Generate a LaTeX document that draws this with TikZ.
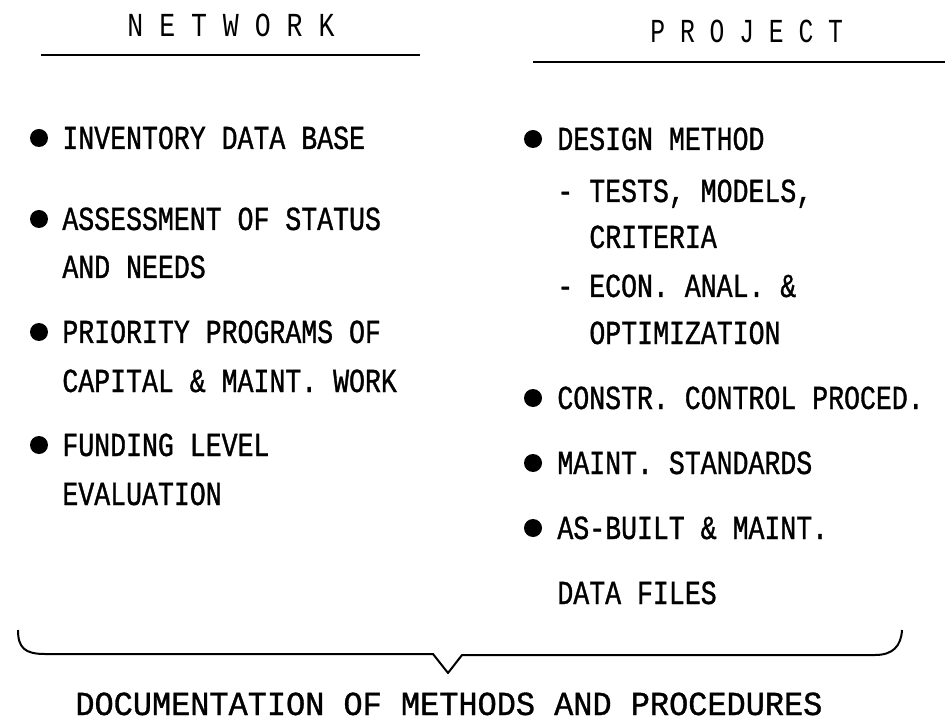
\documentclass[tikz,border=0pt]{standalone}
\usepackage{fontspec}
\usepackage{tikz}
\newfontfamily\typefont[FakeStretch=0.79,FakeBold=1]{Liberation Mono}
\newfontfamily\headfont[FakeStretch=0.79]{Liberation Mono}
\newfontfamily\widefont[FakeStretch=0.95,FakeBold=1]{Liberation Mono}

\begin{document}
\begin{tikzpicture}[x=0.5pt,y=-0.5pt,
  txt/.style={anchor=base west, inner sep=0pt, font=\typefont\fontsize{16.8}{20}\selectfont},
  headtxt/.style={anchor=base west, inner sep=0pt, font=\headfont\fontsize{16.8}{20}\selectfont},
  bigtxt/.style={anchor=base west, inner sep=0pt, font=\widefont\fontsize{16.8}{20}\selectfont},
  rule/.style={line width=1pt}]
\useasboundingbox (0,0) rectangle (945,726);
% headings
\node[headtxt] (net) at (127,37) {N E T W O R K};
\node[headtxt, xscale=0.93] (proj) at (650,43) {P R O J E C T};
\draw[rule] (41,55) -- (420,55);
\draw[rule] (533,62) -- (945,62);
% network column
\fill (39,138) circle (4.5pt);
\node[txt] (inv) at (62,149) {INVENTORY DATA BASE};
\fill (39,219) circle (4.5pt);
\node[txt] (ass) at (62,230) {ASSESSMENT OF STATUS};
\node[txt] (need) at (62,278) {AND NEEDS};
\fill (39,332) circle (4.5pt);
\node[txt] (prio) at (62,343) {PRIORITY PROGRAMS OF};
\node[txt] (cap) at (62,392) {CAPITAL \& MAINT. WORK};
\fill (39,445) circle (4.5pt);
\node[txt] (fund) at (62,456) {FUNDING LEVEL};
\node[txt] (eval) at (62,505) {EVALUATION};
% project column
\fill (533,139) circle (4.5pt);
\node[txt] (des) at (557,150) {DESIGN METHOD};
\node[txt] (test) at (557,202) {- TESTS, MODELS,};
\node[txt] (crit) at (589,248) {CRITERIA};
\node[txt] (econ) at (557,297) {- ECON. ANAL. \&};
\node[txt] (opt) at (589,344) {OPTIMIZATION};
\fill (533,398) circle (4.5pt);
\node[txt] (con) at (557,409) {CONSTR. CONTROL PROCED.};
\fill (533,463) circle (4.5pt);
\node[txt] (std) at (557,474) {MAINT. STANDARDS};
\fill (533,528) circle (4.5pt);
\node[txt] (asb) at (557,539) {AS-BUILT \& MAINT.};
\node[txt] (dat) at (557,604) {DATA FILES};
% brace and result
\node[bigtxt] (doc) at (75,715) {DOCUMENTATION OF METHODS AND PROCEDURES};
\coordinate (tip) at (448,673);
\draw[rule, line join=round] (18,630) .. controls (18,648) and (25,654) .. (45,654)
  -- (433,654) -- (tip) -- (462,655) -- (875,655)
  .. controls (893,655) and (901,646) .. (902,630);
\end{tikzpicture}
\end{document}
